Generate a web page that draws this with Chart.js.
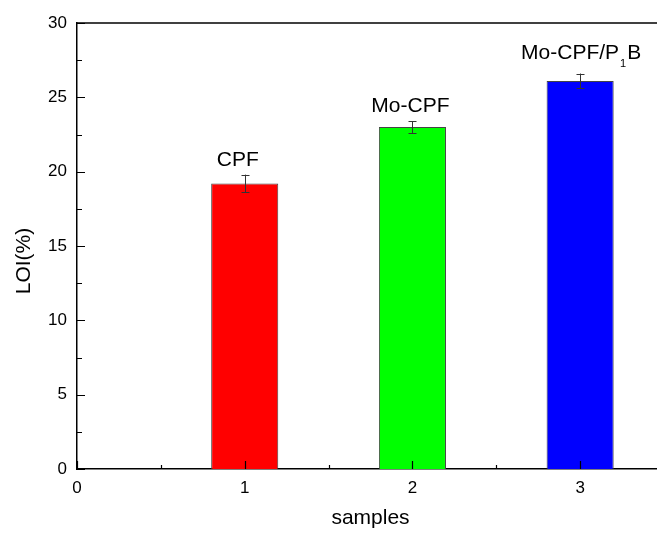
<!DOCTYPE html>
<html><head><meta charset="utf-8">
<script src="https://cdn.jsdelivr.net/npm/chart.js@4/dist/chart.umd.min.js"></script>
<style>
html,body{margin:0;padding:0;background:#fff;overflow:hidden;width:657px;height:535px}
#wrap{width:664px;height:535px;position:relative}
canvas{display:block}
</style></head>
<body><div id="wrap"><canvas id="c" width="664" height="535"></canvas></div>
<script>
// ---- data ----
const samples = [1, 2, 3];
const loi = [19.2, 23.0, 26.1];
const loiErr = [0.6, 0.4, 0.5];
const sampleNames = ['CPF', 'Mo-CPF', 'Mo-CPF/P_{1}B'];
const xTicks = [0, 1, 2, 3];
const yTicks = [0, 5, 10, 15, 20, 25, 30];
const barColors = ['#ff0000', '#00ff00', '#0000ff'];
const xTitle = 'samples';
const yTitle = 'LOI(%)';
// label nudges (style): [dx, gap above error cap]
const labelNudge = [[-7, 9], [-2, 9], [1, 15]];

const FONT = '"Liberation Sans", Arial, sans-serif';

const axisPlugin = {
  id: 'axisDecor',
  afterDatasetsDraw(chart) {
    const {ctx, chartArea: a, scales: {x, y}} = chart;
    ctx.save();
    ctx.strokeStyle = '#000';
    // top frame line
    ctx.lineWidth = 1.5;
    ctx.beginPath(); ctx.moveTo(a.left, a.top); ctx.lineTo(a.right, a.top); ctx.stroke();
    // ticks (inward)
    ctx.lineWidth = 1.2;
    const yMinor = [];
    for (let i = 0; i < yTicks.length - 1; i++) yMinor.push((yTicks[i] + yTicks[i + 1]) / 2);
    const xMinor = [];
    for (let i = 0; i < xTicks.length - 1; i++) xMinor.push((xTicks[i] + xTicks[i + 1]) / 2);
    ctx.beginPath();
    yTicks.forEach(v => { const p = Math.round(y.getPixelForValue(v)) + 0.5; ctx.moveTo(a.left, p); ctx.lineTo(a.left + 8, p); });
    yMinor.forEach(v => { const p = Math.round(y.getPixelForValue(v)) + 0.5; ctx.moveTo(a.left, p); ctx.lineTo(a.left + 5, p); });
    xTicks.forEach(v => { const p = Math.round(x.getPixelForValue(v)) + 0.5; ctx.moveTo(p, a.bottom); ctx.lineTo(p, a.bottom - 8); });
    xMinor.forEach(v => { const p = Math.round(x.getPixelForValue(v)) + 0.5; ctx.moveTo(p, a.bottom); ctx.lineTo(p, a.bottom - 4); });
    ctx.stroke();

    // error bars
    ctx.strokeStyle = '#333';
    ctx.lineWidth = 1;
    samples.forEach((s, i) => {
      const px = Math.round(x.getPixelForValue(s)) + 0.5;
      const hi = y.getPixelForValue(loi[i] + loiErr[i]);
      const lo = y.getPixelForValue(loi[i] - loiErr[i]);
      ctx.beginPath();
      ctx.moveTo(px, hi); ctx.lineTo(px, lo);
      ctx.moveTo(px - 4, Math.round(hi) + 0.5); ctx.lineTo(px + 4, Math.round(hi) + 0.5);
      ctx.moveTo(px - 4, Math.round(lo) + 0.5); ctx.lineTo(px + 4, Math.round(lo) + 0.5);
      ctx.stroke();
    });

    // bar labels
    ctx.fillStyle = '#000';
    ctx.textBaseline = 'alphabetic';
    ctx.textAlign = 'left';
    samples.forEach((s, i) => {
      const parts = sampleNames[i].split(/_\{([^}]*)\}/);
      const mainF = '21px ' + FONT, subF = '11px ' + FONT;
      let w = 0;
      parts.forEach((t, k) => { ctx.font = (k % 2 ? subF : mainF); w += ctx.measureText(t).width + (k % 2 ? 2 : 0); });
      const cx = x.getPixelForValue(s) + labelNudge[i][0];
      const base = y.getPixelForValue(loi[i] + loiErr[i]) - labelNudge[i][1];
      let px = cx - w / 2;
      parts.forEach((t, k) => {
        ctx.font = (k % 2 ? subF : mainF);
        if (k % 2) { ctx.fillText(t, px + 1, base + 8); px += ctx.measureText(t).width + 2; }
        else { ctx.fillText(t, px, base); px += ctx.measureText(t).width; }
      });
    });

    // y axis title
    ctx.font = '21px ' + FONT;
    ctx.textAlign = 'center';
    ctx.textBaseline = 'middle';
    ctx.translate(24.5, 261);
    ctx.rotate(-Math.PI / 2);
    ctx.fillText(yTitle, 0, 0);
    ctx.restore();
  }
};

new Chart(document.getElementById('c'), {
  type: 'bar',
  data: {
    datasets: [{
      data: samples.map((s, i) => ({x: s, y: loi[i]})),
      backgroundColor: barColors,
      borderColor: '#444',
      borderWidth: 1,
      barPercentage: 0.4,
      categoryPercentage: 1.0
    }]
  },
  options: {
    responsive: false,
    animation: false,
    devicePixelRatio: 1,
    layout: {padding: {top: 23, left: 0, right: 0, bottom: 0}},
    plugins: {legend: {display: false}, tooltip: {enabled: false}},
    scales: {
      x: {
        type: 'linear', min: 0, max: 3.5, offset: false,
        grid: {display: false, drawTicks: false},
        border: {display: true, color: '#000', width: 1.5},
        afterBuildTicks: s => { s.ticks = xTicks.map(v => ({value: v})); },
        ticks: {color: '#000', font: {family: FONT, size: 17}, padding: 9, maxRotation: 0, autoSkip: false},
        title: {display: true, text: xTitle, color: '#000', font: {family: FONT, size: 21}, padding: {top: 0, bottom: 4}},
        afterFit: s => { s.height = 66; }
      },
      y: {
        type: 'linear', min: 0, max: 30,
        grid: {display: false, drawTicks: false},
        border: {display: true, color: '#000', width: 1.5},
        afterBuildTicks: s => { s.ticks = yTicks.map(v => ({value: v})); },
        ticks: {color: '#000', font: {family: FONT, size: 17}, padding: 10},
        title: {display: false},
        afterFit: s => { s.width = 77; }
      }
    }
  },
  plugins: [axisPlugin]
});
</script>
</body></html>
